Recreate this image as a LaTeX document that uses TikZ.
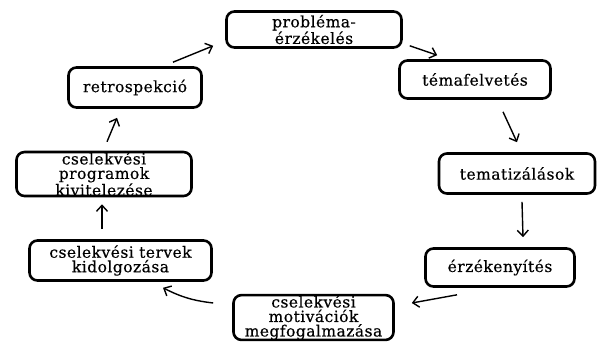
\documentclass[tikz,border=0pt]{standalone}
\usepackage{fontspec}
\usetikzlibrary{arrows.meta}
\newfontfamily\labfont[LetterSpace=3,FakeBold=0.4]{DejaVu Serif}
\tikzset{
  box/.style={draw=black, line width=2.6pt, rounded corners=8pt, inner sep=0pt,
    align=center, font=\labfont\fontsize{15.5}{14.5}\selectfont},
  arr/.style={line width=1.4pt, -{Straight Barb[length=6pt,width=11pt,line width=1.4pt]}}
}
\begin{document}
\begin{tikzpicture}[x=1pt,y=-1pt]
\useasboundingbox (0,0) rectangle (601,341);
\node[box, minimum width=175pt, minimum height=36pt] (problema) at (314,29.5) {probléma-\\érzékelés};
\node[box, minimum width=151pt, minimum height=38pt] (tema) at (475,79.5) {témafelvetés};
\node[box, minimum width=156pt, minimum height=40pt] (tematiz) at (517,173.5) {tematizálások};
\node[box, minimum width=149pt, minimum height=38pt] (erzek) at (500,267.5) {érzékenyítés};
\node[box, minimum width=160pt, minimum height=38pt] (motiv) at (313.5,317.5) {cselekvési\\motivációk\\megfogalmazása};
\node[box, minimum width=182pt, minimum height=40pt] (tervek) at (120.5,260.5) {cselekvési tervek\\kidolgozása};
\node[box, minimum width=175pt, minimum height=41pt] (programok) at (104,174) {cselekvési\\programok\\kivitelezése};
\node[box, minimum width=133pt, minimum height=40pt] (retro) at (135,87.5) {retrospekció};

\draw[arr] ([xshift=38pt,yshift=4pt]retro.north) -- ([xshift=-12pt,yshift=3pt]problema.south west);
\draw[arr] ([xshift=7pt,yshift=3pt]problema.south east) -- ([xshift=39pt,yshift=4pt]tema.north west);
\draw[arr] ([xshift=28pt,yshift=-12pt]tema.south) -- ([yshift=10pt]tematiz.north);
\draw[arr] ([xshift=5pt,yshift=-7pt]tematiz.south) -- ([xshift=23pt,yshift=10pt]erzek.north);
\draw[arr] ([xshift=-43pt,yshift=-7pt]erzek.south) -- ([xshift=17pt,yshift=14.5pt]motiv.east);
\draw[arr] ([xshift=-19pt,yshift=14.5pt]motiv.west) to[bend left=10] ([xshift=42.5pt,yshift=-6pt]tervek.south);
\draw[arr] ([xshift=-18.5pt,yshift=10pt]tervek.north) -- ([xshift=-2pt,yshift=-7pt]programok.south);
\draw[arr] ([xshift=3pt,yshift=9pt]programok.north) -- ([xshift=-18pt,yshift=-9pt]retro.south);
\end{tikzpicture}
\end{document}
